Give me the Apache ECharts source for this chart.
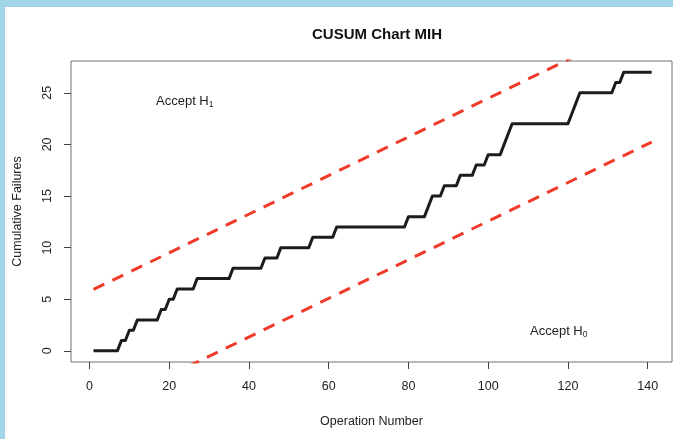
<!DOCTYPE html>
<html>
<head>
<meta charset="utf-8">
<script src="https://cdn.jsdelivr.net/npm/echarts@6/dist/echarts.min.js"></script>
<style>
  html, body { margin: 0; padding: 0; background: #fff; }
  #wrap { position: relative; width: 673px; height: 439px; overflow: hidden; }
  #chart { position: absolute; left: 0; top: 0; width: 673px; height: 439px; }
  .edge { position: absolute; background: #a0d6e8; pointer-events: none; }
</style>
</head>
<body>
<div id="wrap">
  <div id="chart"></div>
  <div class="edge" style="left:0;top:0;width:673px;height:7px"></div>
  <div class="edge" style="left:0;top:0;width:5px;height:439px"></div>
</div>
<script>
// Cumulative number of failures after each operation (operation 1 .. 141)
const cumulativeFailures = [
  0, 0, 0, 0, 0, 0, 0, 1, 1, 2,          // 1-10
  2, 3, 3, 3, 3, 3, 3, 4, 4, 5,          // 11-20
  5, 6, 6, 6, 6, 6, 7, 7, 7, 7,          // 21-30
  7, 7, 7, 7, 7, 8, 8, 8, 8, 8,          // 31-40
  8, 8, 8, 9, 9, 9, 9, 10, 10, 10,       // 41-50
  10, 10, 10, 10, 10, 11, 11, 11, 11, 11,// 51-60
  11, 12, 12, 12, 12, 12, 12, 12, 12, 12,// 61-70
  12, 12, 12, 12, 12, 12, 12, 12, 12, 13,// 71-80
  13, 13, 13, 13, 14, 15, 15, 15, 16, 16,// 81-90
  16, 16, 17, 17, 17, 17, 18, 18, 18, 19,// 91-100
  19, 19, 19, 20, 21, 22, 22, 22, 22, 22,// 101-110
  22, 22, 22, 22, 22, 22, 22, 22, 22, 22,// 111-120
  23, 24, 25, 25, 25, 25, 25, 25, 25, 25,// 121-130
  25, 26, 26, 27, 27, 27, 27, 27, 27, 27,// 131-140
  27                                     // 141
];
const operations = cumulativeFailures.map((_, i) => i + 1);

// Decision boundaries (straight lines, given by their end points)
const boundaryOps = [1, 141];
const upperBoundary = [5.95, 32.13];   // above: accept H1
const lowerBoundary = [-5.95, 20.23];  // below: accept H0

// Axis tick positions
const xTicks = [0, 20, 40, 60, 80, 100, 120, 140];
const yTicks = [0, 5, 10, 15, 20, 25];

const FONT = '"Liberation Sans", Arial, Helvetica, sans-serif';
const TEXT = '#222';

const chart = echarts.init(document.getElementById('chart'), null, { renderer: 'canvas' });

const pair = (xs, ys) => xs.map((x, i) => [x, ys[i]]);

chart.setOption({
  animation: false,
  backgroundColor: '#fff',
  title: {
    text: 'CUSUM Chart MIH',
    left: 372,
    top: 22,
    textAlign: 'center',
    textStyle: { fontFamily: FONT, fontSize: 15, fontWeight: 'bold', color: '#111' }
  },
  grid: {
    left: 71, top: 61, width: 601, height: 301,
    show: true, borderColor: '#707070', borderWidth: 1, backgroundColor: 'transparent'
  },
  xAxis: {
    type: 'value',
    min: -4.64, max: 146.1,
    name: 'Operation Number',
    nameLocation: 'middle',
    nameGap: 53,
    nameTextStyle: { fontFamily: FONT, fontSize: 12.5, color: TEXT },
    axisLine: { show: false, onZero: false },
    splitLine: { show: false },
    axisTick: { show: true, inside: false, length: 7, customValues: xTicks,
                lineStyle: { color: '#444', width: 1 } },
    axisLabel: { customValues: xTicks, margin: 18,
                 fontFamily: FONT, fontSize: 12.5, color: TEXT }
  },
  yAxis: {
    type: 'value',
    min: -1.08, max: 28.08,
    name: 'Cumulative Failures',
    nameLocation: 'middle',
    nameGap: 47,
    nameTextStyle: { fontFamily: FONT, fontSize: 12.5, color: TEXT },
    axisLine: { show: false, onZero: false },
    splitLine: { show: false },
    axisTick: { show: true, inside: false, length: 7, customValues: yTicks,
                lineStyle: { color: '#444', width: 1 } },
    axisLabel: { customValues: yTicks, rotate: 90, margin: 17,
                 fontFamily: FONT, fontSize: 12.5, color: TEXT }
  },
  series: [
    {
      name: 'Upper boundary',
      type: 'line',
      data: pair(boundaryOps, upperBoundary),
      showSymbol: false,
      clip: true,
      lineStyle: { color: '#f03a2a', width: 3, type: [12, 9] },
      z: 2
    },
    {
      name: 'Lower boundary',
      type: 'line',
      data: pair(boundaryOps, lowerBoundary),
      showSymbol: false,
      clip: true,
      lineStyle: { color: '#f03a2a', width: 3, type: [12, 9] },
      z: 2
    },
    {
      name: 'Cumulative failures',
      type: 'line',
      data: pair(operations, cumulativeFailures),
      showSymbol: false,
      clip: true,
      lineStyle: { color: '#1c1c1c', width: 3, join: 'round' },
      z: 3
    }
  ],
  graphic: [
    {
      type: 'text', left: 156, top: 93,
      style: {
        text: '{a|Accept H}{b|1}',
        rich: {
          a: { fontFamily: FONT, fontSize: 13, fill: TEXT, lineHeight: 16 },
          b: { fontFamily: FONT, fontSize: 8.5, fill: TEXT, lineHeight: 16, padding: [7, 0, 0, 0] }
        }
      }
    },
    {
      type: 'text', left: 530, top: 323,
      style: {
        text: '{a|Accept H}{b|0}',
        rich: {
          a: { fontFamily: FONT, fontSize: 13, fill: TEXT, lineHeight: 16 },
          b: { fontFamily: FONT, fontSize: 8.5, fill: TEXT, lineHeight: 16, padding: [7, 0, 0, 0] }
        }
      }
    }
  ]
});
</script>
</body>
</html>
